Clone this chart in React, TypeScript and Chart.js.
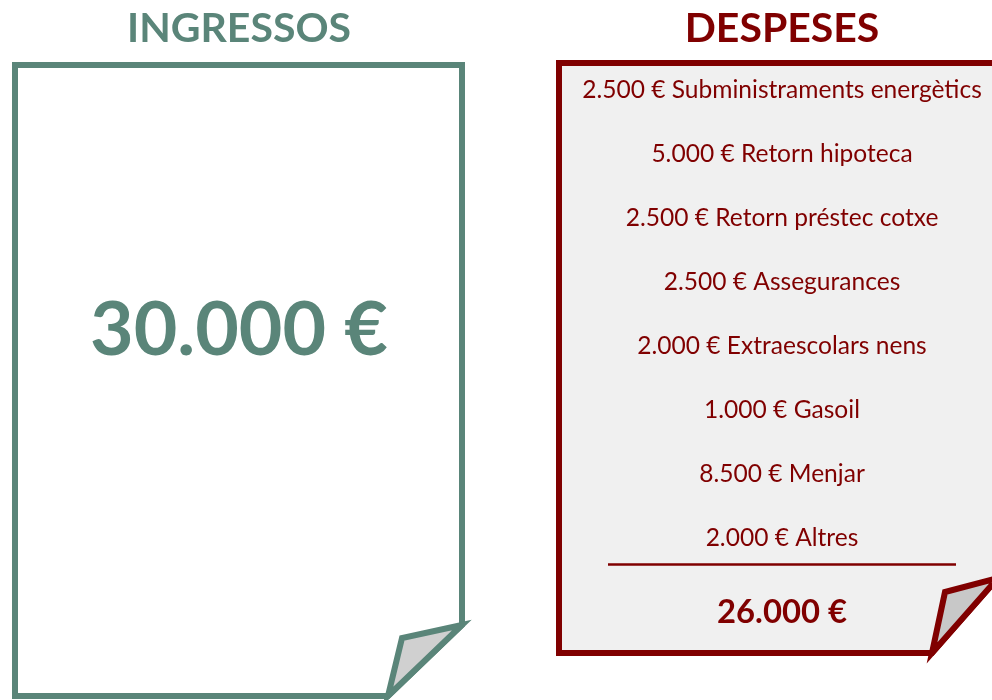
import React, { useEffect, useRef } from "react";
import { Chart, registerables } from "chart.js";

Chart.register(...registerables);

const incomeTitle = "INGRESSOS";
const expenseTitle = "DESPESES";
const incomeTotal = 30000;
const expenseLabels = [
  "Subministraments energètics",
  "Retorn hipoteca",
  "Retorn préstec cotxe",
  "Assegurances",
  "Extraescolars nens",
  "Gasoil",
  "Menjar",
  "Altres",
];
const expenseAmounts = [2500, 5000, 2500, 2500, 2000, 1000, 8500, 2000];

const GREEN = "#5a8579";
const RED = "#800000";
const FONT = "Lato, 'Open Sans', sans-serif";

function fmt(v: number): string {
  const s = Math.round(v).toString();
  return s.replace(/\B(?=(\d{3})+(?!\d))/g, ".") + " €";
}

function fitSize(ctx: CanvasRenderingContext2D, text: string, weight: string, target: number): number {
  ctx.font = `${weight} 100px ${FONT}`;
  const w = ctx.measureText(text).width;
  return (100 * target) / w;
}

const infoPlugin = {
  id: "infoPages",
  beforeDraw(chart: any) {
    const ctx: CanvasRenderingContext2D = chart.ctx;
    const labels: string[] = chart.data.labels;
    const values: number[] = chart.data.datasets[0].data;
    const total = values.reduce((a, b) => a + b, 0);
    ctx.save();
    ctx.fillStyle = "#ffffff";
    ctx.fillRect(0, 0, chart.width, chart.height);
    ctx.lineJoin = "miter";

    // Left page
    ctx.beginPath();
    ctx.moveTo(15, 65);
    ctx.lineTo(462, 65);
    ctx.lineTo(462, 625);
    ctx.lineTo(388, 696);
    ctx.lineTo(15, 696);
    ctx.closePath();
    ctx.fillStyle = "#ffffff";
    ctx.fill();
    ctx.lineWidth = 6;
    ctx.strokeStyle = GREEN;
    ctx.stroke();
    ctx.beginPath();
    ctx.moveTo(462, 625);
    ctx.lineTo(402, 638);
    ctx.lineTo(388, 696);
    ctx.closePath();
    ctx.fillStyle = "#d0d0d0";
    ctx.fill();
    ctx.stroke();

    // Right page
    ctx.beginPath();
    ctx.moveTo(559, 63);
    ctx.lineTo(998, 63);
    ctx.lineTo(998, 578);
    ctx.lineTo(932, 653);
    ctx.lineTo(559, 653);
    ctx.closePath();
    ctx.fillStyle = "#f0f0f0";
    ctx.fill();
    ctx.strokeStyle = RED;
    ctx.stroke();
    ctx.beginPath();
    ctx.moveTo(998, 578);
    ctx.lineTo(945, 592);
    ctx.lineTo(932, 653);
    ctx.closePath();
    ctx.fillStyle = "#c8c8c8";
    ctx.fill();
    ctx.stroke();

    ctx.textAlign = "center";
    ctx.textBaseline = "alphabetic";

    // Titles
    const tSize = fitSize(ctx, incomeTitle, "bold", 224);
    ctx.font = `bold ${tSize}px ${FONT}`;
    ctx.fillStyle = GREEN;
    ctx.fillText(incomeTitle, 239, 42);
    ctx.fillStyle = RED;
    ctx.fillText(expenseTitle, 782, 42);

    // Income value
    const iText = fmt(incomeTotal);
    const iSize = fitSize(ctx, iText, "bold", 298);
    ctx.font = `bold ${iSize}px ${FONT}`;
    ctx.fillStyle = GREEN;
    ctx.fillText(iText, 239, 355);

    // Expense items
    const first = fmt(values[0]) + " " + labels[0];
    const eSize = fitSize(ctx, first, "normal", 400);
    ctx.font = `normal ${eSize}px ${FONT}`;
    ctx.fillStyle = RED;
    labels.forEach((l, i) => {
      ctx.fillText(fmt(values[i]) + " " + l, 782, 98 + i * 64);
    });

    // Divider
    ctx.beginPath();
    ctx.moveTo(608, 564.5);
    ctx.lineTo(956, 564.5);
    ctx.lineWidth = 2.5;
    ctx.strokeStyle = RED;
    ctx.stroke();

    // Total
    const tt = fmt(total);
    const ttSize = fitSize(ctx, tt, "bold", 130);
    ctx.font = `bold ${ttSize}px ${FONT}`;
    ctx.fillStyle = RED;
    ctx.fillText(tt, 782, 623);
    ctx.restore();
  },
};

export default function App() {
  const ref = useRef<HTMLCanvasElement | null>(null);
  useEffect(() => {
    document.body.style.margin = "0";
    if (!ref.current) return;
    const chart = new Chart(ref.current, {
      type: "bar",
      data: {
        labels: expenseLabels,
        datasets: [{ data: expenseAmounts, backgroundColor: "rgba(0,0,0,0)" }],
      },
      options: {
        animation: false,
        responsive: false,
        events: [],
        layout: { padding: 0 },
        scales: { x: { display: false }, y: { display: false } },
        plugins: { legend: { display: false }, tooltip: { enabled: false } },
      },
      plugins: [infoPlugin],
    });
    return () => chart.destroy();
  }, []);
  return (
    <div style={{ width: 992, height: 700 }}>
      <canvas ref={ref} width={992} height={700} style={{ display: "block" }} />
    </div>
  );
}
